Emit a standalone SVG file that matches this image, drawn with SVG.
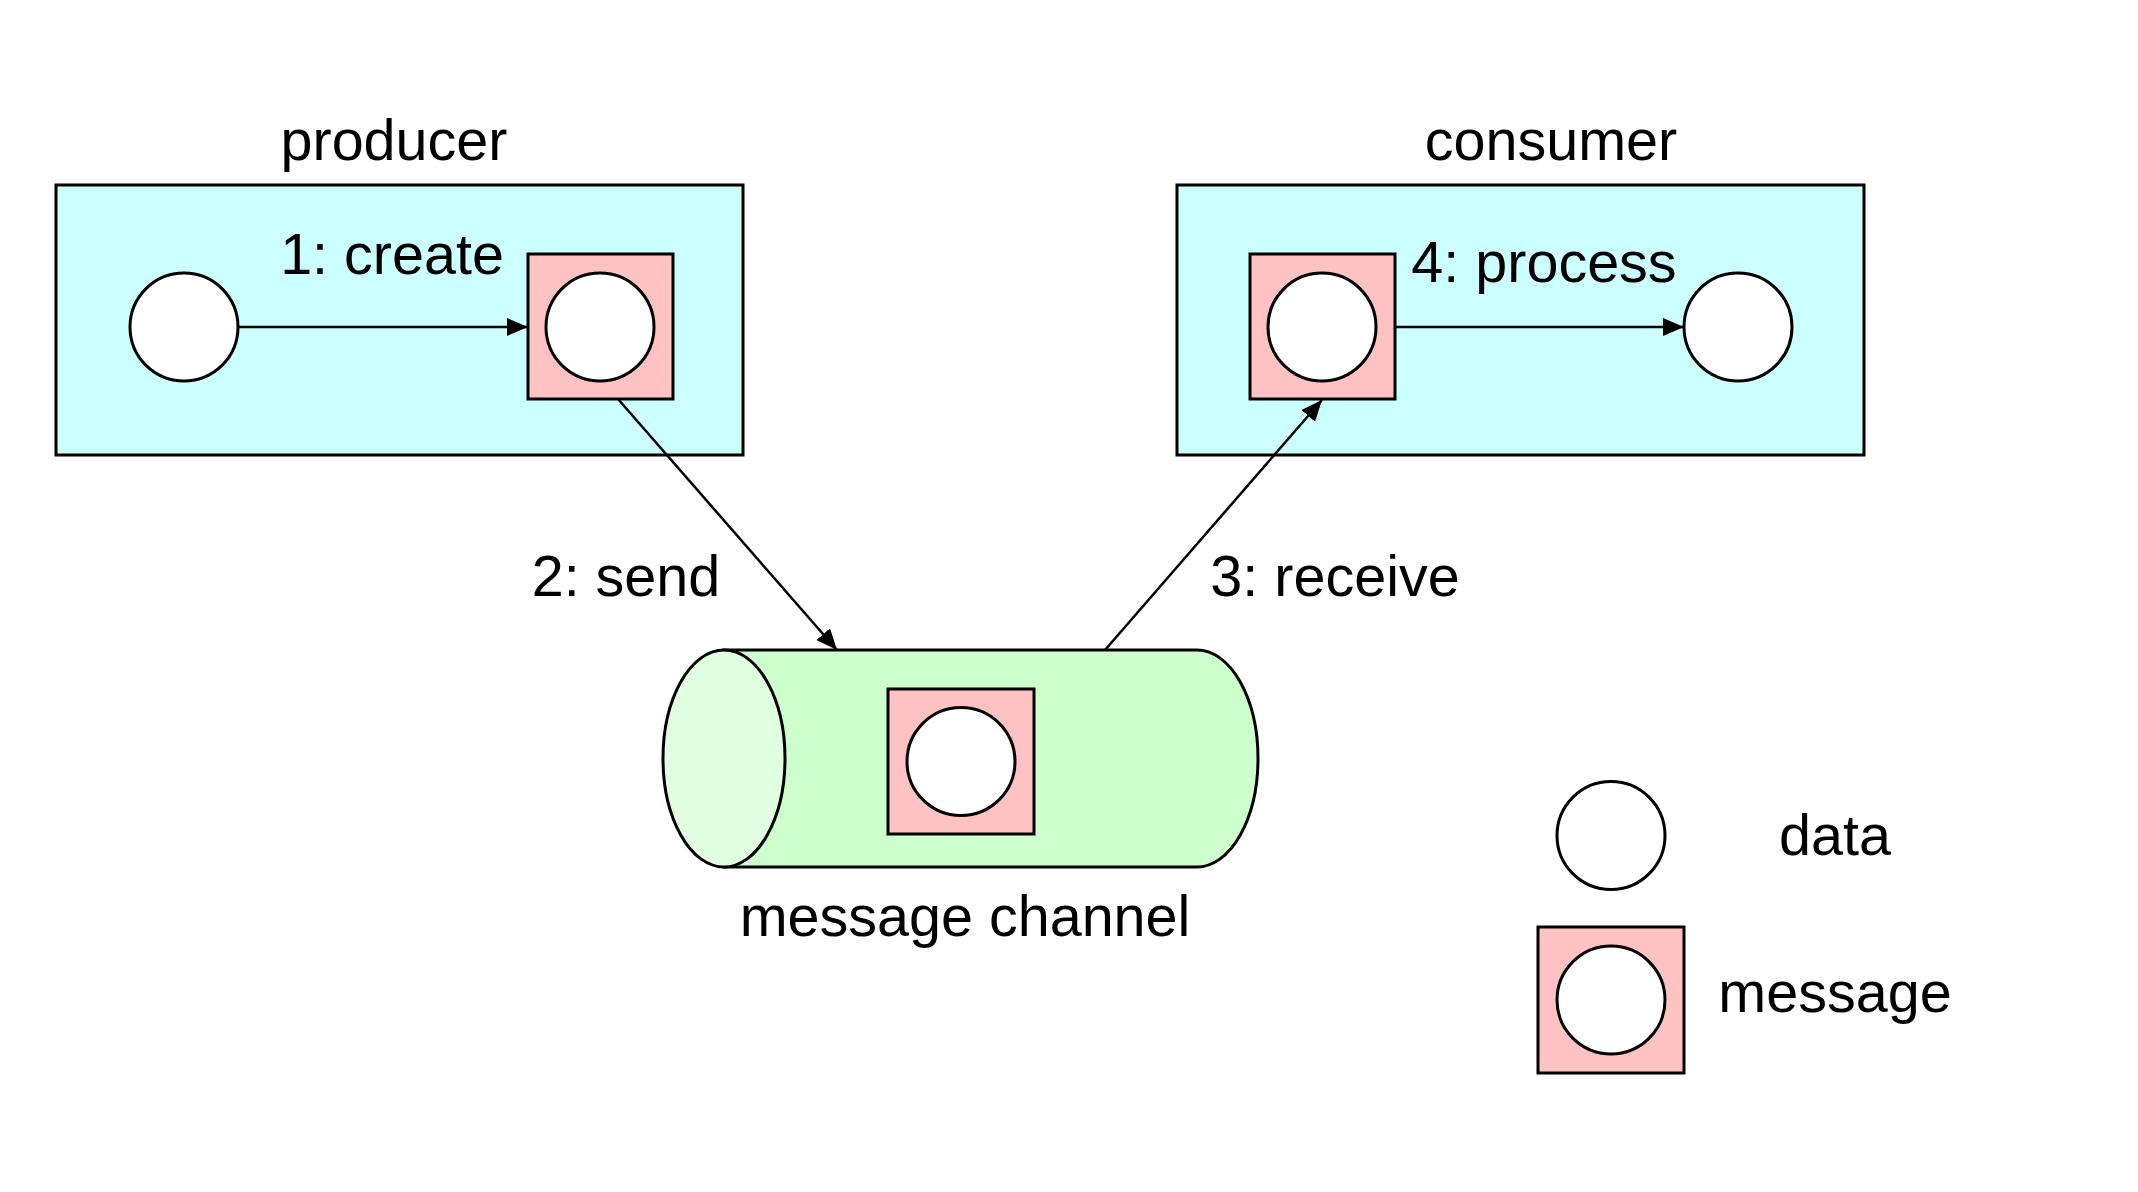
<svg xmlns="http://www.w3.org/2000/svg" width="2138" height="1192" viewBox="0 0 2138 1192">
<style>
text{font-family:"Liberation Sans",Arial,sans-serif;font-size:57.5px;fill:#000;text-anchor:middle}
.proc{fill:#CCFFFF;stroke:#000;stroke-width:3}
.msg{fill:#FFC2C2;stroke:#000;stroke-width:3}
.data{fill:#FFFFFF;stroke:#000;stroke-width:3}
.conn{stroke:#000;stroke-width:2.5;fill:none;marker-end:url(#arr)}
</style>
<defs>
<marker id="arr" markerUnits="userSpaceOnUse" markerWidth="22" markerHeight="20" viewBox="0 0 22 20" refX="21" refY="10" orient="auto">
<path d="M0,1 L21,10 L0,19 z" fill="#000"/>
</marker>
</defs>
<rect width="2138" height="1192" fill="#fff"/>

<g id="producer">
<text x="394" y="160">producer</text>
<rect class="proc" x="56" y="185" width="687" height="270"/>
<text x="392" y="274">1: create</text>
</g>
<g id="producer-data">
<circle class="data" cx="184" cy="327" r="54"/>
</g>
<g id="producer-message">
<rect class="msg" x="528" y="254" width="145" height="145"/>
<circle class="data" cx="600" cy="327" r="54"/>
</g>

<g id="consumer">
<text x="1551" y="160">consumer</text>
<rect class="proc" x="1177" y="185" width="687" height="270"/>
<text x="1544" y="282">4: process</text>
</g>
<g id="consumer-message">
<rect class="msg" x="1250" y="254" width="145" height="145"/>
<circle class="data" cx="1322" cy="327" r="54"/>
</g>
<g id="consumer-data">
<circle class="data" cx="1738" cy="327" r="54"/>
</g>

<g id="channel">
<path d="M724,650 L1197,650 A61,108.5 0 0 1 1197,867 L724,867 Z" fill="#CCFFCC" stroke="#000" stroke-width="3"/>
<ellipse cx="724" cy="758.5" rx="61" ry="108.5" fill="#E0FFE0" stroke="#000" stroke-width="3"/>
<rect class="msg" x="888" y="689" width="146" height="145"/>
<circle class="data" cx="961" cy="761.5" r="54"/>
<text x="965" y="936">message channel</text>
</g>

<g id="legend-data">
<circle class="data" cx="1611" cy="835.5" r="54"/>
<text x="1835" y="855">data</text>
</g>
<g id="legend-message">
<rect class="msg" x="1538" y="927" width="146" height="146"/>
<circle class="data" cx="1611" cy="1000" r="54"/>
<text x="1835" y="1012">message</text>
</g>

<g id="connectors">
<line class="conn" x1="238" y1="327" x2="528" y2="327"/>
<line class="conn" x1="618" y1="399" x2="837" y2="650"/>
<line class="conn" x1="1105" y1="650" x2="1322" y2="400"/>
<line class="conn" x1="1395" y1="327" x2="1684" y2="327"/>
<text x="626" y="596">2: send</text>
<text x="1335" y="596">3: receive</text>
</g>
</svg>
